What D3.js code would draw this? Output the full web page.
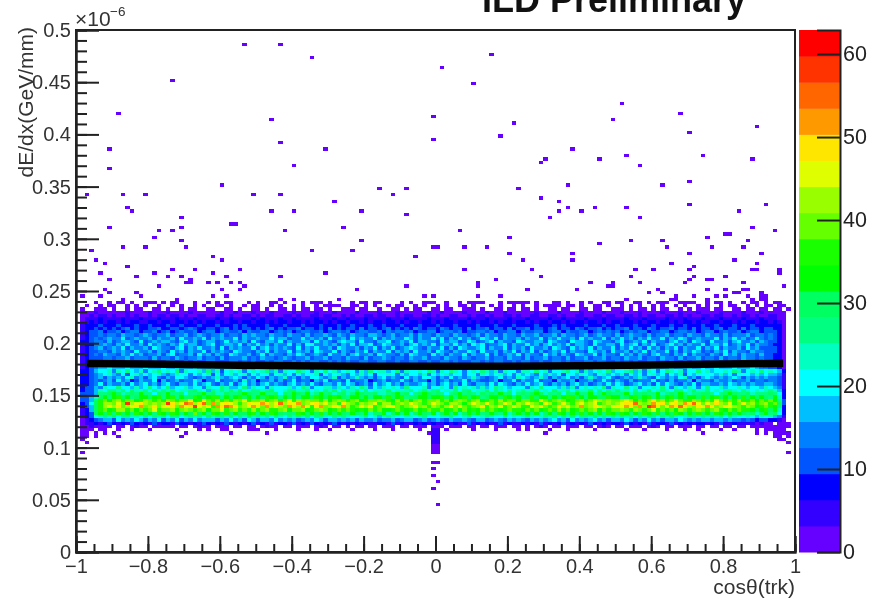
<!DOCTYPE html>
<html>
    <head>
        <meta charset="utf-8">
        <style>
            body { margin: 0; background: #fff; }
            svg { display: block; filter: blur(0.6px); font-family: "Liberation Sans", sans-serif; }
        </style>
    </head>
    <body>
        <svg width="879" height="600"></svg>
        <script src="https://d3js.org/d3.v7.min.js"></script>
        <script>
            // colour levels, bottom of the z axis first
            const palette = ["#6600ff","#3300ff","#0000ff","#0055ff","#0080ff","#00bfff","#00ffff","#00ffc0","#00ff80","#00ff60",
                             "#00ff00","#1aff00","#66ff00","#99ff00","#dfff00","#ffe600","#ff9900","#ff6600","#ff3300","#ff0000"];
            const zMax = 62.9;
            const xBins = 160, yBins = 160;

            const xTicks = [-1,-0.8,-0.6,-0.4,-0.2,0,0.2,0.4,0.6,0.8,1];
            const yTicks = [0,0.05,0.1,0.15,0.2,0.25,0.3,0.35,0.4,0.45,0.5];
            const zTicks = [0,10,20,30,40,50,60];

            // density of the band, one string per y bin, top row is bin 76.
            // each character is the colour level of one x bin (base 36), "." is empty
            const topBin = 76;
            const bandRows = [
                "....0..0.00.0...00.0 .00...0..0.0.00...0. 0..00.0...0.00..0... .0.0..00....0.0..00. ..0..0.0.00...0..0.0 0.0...00.0..0.0..00. .0..00...0.0..00.0.. 0.00.0..0.00.0.00...",
                "..0..0.00..0.0.0..0. .0.0..0.0..00.0..0.0 0..0.0..0.0..0.0.00. .0..0.0..0.00..0.0.. 0.0..00.0...0.0..0.0 ..0.0..0.00.0..00.0. .0.0.0..0.0..0.0..0. 0..0.00..0.0.00.00..",
                ".0..000.0..0.00..00. 0..0.00..00..00.0..0 0.0..00.0.00.00.0..0 00.00..0..00.0.00..0 0.00..000.0..00.00.0 0.0..00.00..00.00..0 00.0.00.0.00..0.0.00 0.00..00.00.00.00.0.",
                ".0001000000100001000 10000100000010010001 00010000100001000100 00100001000100000010 01000010000100010000 00100001000010000100 01000100001000100010 000100001000100000..",
                ".0010110100101001011 01101001100110100110 10110011010011011001 01001101100101100110 10011001011010011010 01100110100110011011 00110101100110101001 101100101101001100..",
                ".0111211112111211121 11211121111211211112 12111211211112111211 21112111121112111121 11211112111211112111 21111211211112111211 11211121111211121112 111211112111211100..",
                ".0121212212122112212 21221212122121221221 22121221221212212122 12212122122121221221 21221221212212122122 12122122121221221212 21221212212212122121 122122121221221210..",
                ".1222322232223223222 32232223222322232322 22322232223222322232 23222322322232223222 32223222232223222322 22322232322223222322 32223222322232232223 223222322232222220..",
                ".1223232323423223342 23323432233234232332 32342323342332324232 33242332342323243233 24323324233423324233 42332342332432334232 33423324323342332423 323423324233233220..",
                ".1233423342344233423 42343342344234334243 34423434234433423443 42344334243443423344 23443423344342334424 33442344243344234343 42343442334423443423 442343342344233320..",
                ".1233434435443454344 53445345434453443545 44354435443534454354 35443554345344535443 54435443453544354435 44534453544345345443 53454435344534435443 544353444534434320..",
                ".1234345446345445354 45364454635454463544 54464553446454536445 36454463545446535446 46354645346546354453 54463546445364544635 46453546446354653454 446354645346434320..",
                ".2234435345543634545 54356453455346454536 43554635445536454356 55364435563454635544 36455346534563544365 44553654436554365443 56345463544356453654 364453564453543320..",
                ".1224454354644536454 35464553456345546354 64535446353664454535 46355634654453564546 35546453656344563544 64535645463554364455 36456354634564535446 355463454635443220..",
                ".1234534546354453654 43563546445363545446 35645454363546445365 44535463546345654354 46353654456354463545 36445365436454635446 35464536453546354463 546354453645333320..",
                ".1233443545436445354 36453544635454365443 54635446354536544635 43546354463545364453 65435446536445354635 46353454635443654536 44535463544635354653 435463544354433320..",
                ".1234354435464534453 56344536453543654453 46354435465345436445 35644536544353654436 45354463544635345463 54436453543654463544 36453543564435463544 354364535443533220..",
                ".1233344344534443534 43543445344353444534 35443454344534453443 54435344543443544534 43544354344534435443 53445344353445344534 43544534435443534453 443534435443433220..",
                ".1232343433443343433 44334343344333443434 33434433434344334343 43344334433433443343 34434333443434433434 43343344343334434433 43434334434343343443 344334343343333220..",
                ".1234444544454445444 45444544454445444544 44544454445444544454 45444544454445444544 44544454445444544454 45444544454445444544 44544454445444544454 454445444544453320..",
                ".1234556555655565556 55655565556555655565 65556555655565556556 55655565556555655565 65556555655565556556 55655565556555655565 65556555655565556556 556555655565443320..",
                ".2235667476865746786 76847667585736767467 67857476687647686756 76475867756847667687 47687646768757476647 76867466786747567685 66785747646876746686 756676874676867652..",
                ".2234567546367565675 45766465673646756746 56646756465667365675 46575636676465665746 56756646647656756465 65465756366576546756 57465646756465736566 665756466657565541..",
                ".2234535454674535643 54665434545754565354 65354574535466545735 45754535645436454665 35464545754345645476 54575354564535754564 34545754365454674535 654545653545454431..",
                ".2234345364523544625 34534465244634453745 24453534634425463443 63445234534464354425 34534463543345244635 44634425445244534643 54353444634353445254 435445344534434431..",
                ".2234635445364564535 64355464564354635645 35645435645464355464 65345364564535445645 35645364355464654354 64564354535645345464 65345645364654354635 544546545454455431..",
                ".2335476686657568656 85667566476687556857 66476667568746677576 57687465767658666746 67648676757568765666 47686665757467676847 66867466768647657646 866756676566576541..",
                ".2335768878697786878 79677897658787979678 87896678977867687968 77968677796777867878 96778689677968768678 77967697786877968687 97768679678768867977 867688768767678752..",
                ".3335889a97898a88698 a8896889a89779889a98 8a889698a98a78a89789 78a98897789a89689a98 98689a89879898a89689 89a97889698a88a78a98 88a798988a7898a87889 98689a988978889862..",
                ".33579a8ab9a89aa9ab8 ab8a99ba9abb8a9ab9a8 a9bab8a9a8aa9ba9aba9 8aa9a8aa9b9ab899aa9a ab9a8ab9ab89aa9ba9a8 9b9aa8a9abb9a8aa99ba a89ab9ab8a9ab9a9aa9b 9ab9a8a9b9a9a98a72..",
                ".3359bcacdbccabdcbcb dcbcceabecbdbcbdcebc cdbcdbcebdcdccbdacdc bcdabccdcbadbcacdbcc dbcacdcbcdabcbdbccac cbbecbcdcabcdbcedcdc cdedacbdfcdbcecbbdcb cbecbcbdbbcacbca83..",
                ".2369bddcecidefdcdcd ifdehgdfhcgcefedbdfe egfdehdfegcdefdecdbf dcbdcdebddbcdcedcbce dcbddcacedcecbcedbdc edcbedbcecbdecdebcdc deffhdcdgefcefdgfhec edfdcebcecdbcdbc93..",
                ".2359bdedfcdefgcdfce efcgefiedfbgfhgfcdeg fcgdfdcgfdgebfgcdfeg dbcedfbcdefcbcdfcdbd cbdfcecbcdfbdcebcedb bedfcbcfdecdgcdfedce fegfcgdihfcegfhfdcfe gfcdfedcbdcabcba82..",
                ".1259bcabddbcacbcebc cdacdcbcdaccebcdbcbd bcdbbcdaccdabcdcabcb cbabacbcaabcbabcabcb bcabcacabacbcbabcbba cbcabcbdbcabcbcdacbc cdcbdcbcebcbcadcbcdc bcdbacbcbba9ab9a72..",
                ".1239a9b8b9a8ba9a8ba 9ba8a9c9a8ba9b8a99ab 8a9ba9898ba9a9b8a9a9 8a98a799a79a8a79a98a 79a8a79a9a89a98a79a9 a8a79a8ba8a9b9a8a8ba 9ba8a9ba9b8a9ba8a9b9 a8ba9a9a98979a8962..",
                ".1236787968877686878 68867878697887868797 87868768787968876878 76678675787667767866 67786678667876686767 87678786878688797878 78786878868797678878 787868766765767541..",
                ".0123455364546535463 54635464555354645365 35546454534546535545 45354453445345534534 54354454355345435454 35454564536454564535 54653546453554654545 545545443432332210..",
                ".0112123212132121312 21322121321213212123 12131221312132121321 21212112213121121212 11212113121211312112 12131212312121321212 21321213122131212122 121311211110100.000.",
                ".0010000.00.0100.000 00.00.0100.000.00.00 .0100.00.000.010.00. 0.00.00.000.00.000.0 00.000.00.00.000.00. 0.010.00.000.00.010. 00.000.010.00.000.00 .00.00.00.000000000.",
                ".000.00..0..0...0... ..0....0.0...0....0. 0...0....0...0..0... .0....0...0.....0... ..0.....0....0....0. 0....0...0.....0.... ..0...0....0...0..0. ...0..0....0.00000..",
                ".00.0.0.0........... ....0.........0..... .................... .................... .................... ....0............... .................... ...........0.0.0000.",
                ".00.0............... .................... .................... .................... .................... .................... .................... ...............00.0.",
                ".0.................. .................... .................... .................... .................... .................... .................... ................00.."
            ];

            // single filled bins outside the band: cos(theta), dE/dx
            const scatterCos = [-0.530,-0.431,-0.344,0.017,-0.729,-0.881,-0.456,-0.006,-0.431,-0.006,-0.904,-0.306,-0.904,-0.394,-0.592,-0.966,-0.868,-0.805,-0.506,-0.431,
                -0.156,-0.120,-0.081,-0.280,-0.854,-0.842,-0.456,-0.394,-0.205,-0.705,-0.081,-0.904,-0.705,-0.573,-0.553,-0.417,-0.256,-0.768,-0.729,-0.780,
                -0.205,-0.705,-0.868,-0.805,-0.693,-0.954,-0.344,-0.230,-0.006,0.008,-0.618,-0.592,-0.056,-0.943,-0.917,-0.854,-0.729,-0.543,-0.668,-0.930,
                -0.780,-0.618,-0.306,-0.827,-0.741,-0.580,-0.705,-0.431,-0.904,-0.680,-0.692,-0.680,-0.630,-0.605,-0.568,-0.543,-0.530,-0.768,-0.543,-0.592,
                -0.219,-0.081,-0.917,-0.904,-0.829,-0.618,-0.580,-0.930,-0.981,-0.032,-0.006,-0.818,-0.868,-0.431,-0.394,-0.268,-0.718,-0.344,-0.318,-0.842,
                -0.805,-0.193,-0.292,-0.219,-0.131,-0.006,
                0.156,0.020,0.104,0.218,0.181,0.518,0.492,0.681,0.705,0.892,0.381,0.306,0.293,0.456,0.531,0.569,0.742,0.879,0.368,0.231,
                0.630,0.705,0.293,0.344,0.705,0.918,0.368,0.344,0.406,0.443,0.531,0.318,0.569,0.843,0.879,0.943,0.069,0.205,0.801,0.819,
                0.755,0.865,0.542,0.630,0.643,0.082,0.144,0.456,0.768,0.854,0.205,0.705,0.904,0.244,0.381,0.381,0.830,0.655,0.717,0.892,
                0.892,0.556,0.606,0.267,0.082,0.705,0.879,0.892,0.954,0.954,0.717,0.293,0.542,0.803,0.705,0.755,0.768,0.170,0.117,0.117,
                0.430,0.492,0.569,0.694,0.854,0.481,0.492,0.395,0.255,0.968,0.755,0.803,0.854,0.865,0.620,0.630,0.592,0.830,0.843,0.904,
                0.667,0.667,0.655,0.717,0.782,0.803,0.865,0.879,0.904,0.918,0.904,0.918,0.117,0.181,0.531,0.755,0.755,0.968,0.943,0.280,
                0.504,0.592,0.630,0.706,0.794,0.181,0.207,0.221,0.233,0.110,0.337,0.323,
                -0.942,-0.880,-0.705,-0.969,-0.981,-0.599,-0.508,-0.469,0.741,0.978,0.981];
            const scatterDedx = [0.487,0.486,0.472,0.463,0.450,0.419,0.413,0.418,0.393,0.394,0.387,0.387,0.367,0.369,0.353,0.341,0.343,0.341,0.341,0.341,
                0.347,0.341,0.347,0.335,0.331,0.325,0.327,0.327,0.325,0.321,0.323,0.312,0.312,0.315,0.315,0.309,0.312,0.307,0.307,0.301,
                0.299,0.298,0.293,0.293,0.291,0.289,0.289,0.289,0.293,0.293,0.283,0.281,0.283,0.279,0.277,0.273,0.271,0.271,0.269,0.267,
                0.267,0.267,0.267,0.264,0.265,0.265,0.263,0.263,0.261,0.261,0.257,0.257,0.259,0.259,0.259,0.257,0.255,0.255,0.251,0.251,
                0.253,0.255,0.251,0.249,0.249,0.246,0.245,0.246,0.245,0.246,0.245,0.245,0.243,0.243,0.243,0.243,0.243,0.240,0.240,0.240,
                0.240,0.240,0.2375,0.2375,0.2375,0.239,
                0.478,0.463,0.447,0.412,0.399,0.429,0.413,0.419,0.403,0.407,0.385,0.377,0.374,0.375,0.379,0.371,0.381,0.377,0.353,0.349,
                0.351,0.356,0.339,0.337,0.333,0.333,0.329,0.325,0.325,0.329,0.329,0.321,0.321,0.325,0.312,0.309,0.307,0.303,0.305,0.305,
                0.301,0.299,0.299,0.298,0.293,0.293,0.293,0.295,0.291,0.291,0.287,0.287,0.287,0.281,0.285,0.281,0.281,0.276,0.273,0.275,
                0.271,0.271,0.271,0.269,0.269,0.269,0.269,0.269,0.269,0.267,0.265,0.263,0.263,0.263,0.261,0.261,0.261,0.261,0.258,0.255,
                0.259,0.258,0.259,0.259,0.259,0.254,0.255,0.253,0.251,0.255,0.251,0.253,0.253,0.251,0.251,0.249,0.249,0.249,0.249,0.249,
                0.246,0.243,0.243,0.245,0.245,0.246,0.245,0.243,0.245,0.245,0.243,0.243,0.245,0.245,0.243,0.243,0.239,0.2375,0.238,0.240,
                0.240,0.240,0.240,0.239,0.239,0.239,0.239,0.239,0.239,0.238,0.2375,0.2375,
                0.112,0.111,0.111,0.104,0.095,0.117,0.117,0.115,0.114,0.104,0.095];

            // the tail under the band at cos(theta) = 0
            const tailCos = [-0.006,0.006,-0.006,0.006,-0.006,0.006,-0.006,0.006,-0.006,0.006,-0.006,0.006,-0.006,0.006,-0.006,0.006,-0.006,0.006,-0.019,
                -0.007,0.007,-0.007,-0.007,0.007,-0.007,0.007];
            const tailDedx = [0.118,0.118,0.115,0.115,0.112,0.112,0.109,0.109,0.106,0.106,0.103,0.103,0.100,0.100,0.097,0.097,0.094,0.094,0.114,
                0.086,0.085,0.080,0.074,0.067,0.062,0.044];
            const tailCounts = [6,6,5,5,5,5,4,5,4,4,3,4,3,3,3,3,2,2,2,2,2,2,2,2,2,2];

            // mean dE/dx profile drawn over the band
            const profileCos = [-0.97,-0.8,-0.6,-0.4,-0.2,0,0.2,0.4,0.6,0.8,0.967];
            const profileDedx = [0.1806,0.180,0.179,0.1785,0.178,0.178,0.178,0.1785,0.179,0.180,0.1807];

            let svg = d3.select("svg");
            let x = d3.scaleLinear().domain([-1,1]).range([76,795]);
            let y = d3.scaleLinear().domain([0,0.5]).range([552,30]);
            let z = d3.scaleLinear().domain([0,zMax]).range([552,30]);
            let color = d3.scaleQuantize().domain([0,zMax]).range(palette);

            let binW = 2/xBins, binH = 0.5/yBins;

            // collect all filled bins, counts are taken at the middle of a level
            let cells = [];
            bandRows.forEach(function(row, r) {
                let chars = row.replace(/ /g, "");
                for (let i = 0; i < chars.length; i++) {
                    if (chars[i] == ".") continue;
                    cells.push({col: i, row: topBin - r, count: (parseInt(chars[i], 36) + 0.5)*zMax/20});
                }
            });
            scatterCos.forEach(function(c, i) {
                cells.unshift({col: Math.floor((c + 1)/binW), row: Math.floor(scatterDedx[i]/binH), count: 1});
            });
            tailCos.forEach(function(c, i) {
                cells.push({col: Math.floor((c + 1)/binW), row: Math.floor(tailDedx[i]/binH), count: tailCounts[i]});
            });

            svg.append("g").selectAll("rect")
                .data(cells)
                .enter().append("rect")
                .attr("x", d => x(-1 + d.col*binW))
                .attr("y", d => y((d.row + 1)*binH))
                .attr("width", x(binW) - x(0))
                .attr("height", y(0) - y(binH))
                .attr("fill", d => color(d.count))
                .attr("shape-rendering", "crispEdges");

            let profile = d3.line().x((d, i) => x(profileCos[i])).y(d => y(d));
            svg.append("path")
                .attr("d", profile(profileDedx))
                .attr("fill", "none")
                .attr("stroke", "#000")
                .attr("stroke-width", 7.5);

            // colour bar
            svg.append("g").selectAll("rect")
                .data(palette)
                .enter().append("rect")
                .attr("x", 799)
                .attr("width", 41)
                .attr("y", (d, i) => z((i + 1)*zMax/20))
                .attr("height", z(0) - z(zMax/20) + 0.5)
                .attr("fill", d => d);

            // frame
            svg.append("rect")
                .attr("x", x(-1)).attr("y", y(0.5))
                .attr("width", x(1) - x(-1)).attr("height", y(0) - y(0.5))
                .attr("fill", "none")
                .attr("stroke", "#222")
                .attr("stroke-width", 2);

            let minus = d => String(d).replace("-", "\u2212");

            // minor ticks first, then the labelled ones
            svg.append("g").attr("transform", "translate(0,552)")
                .call(d3.axisBottom(x).tickValues(d3.range(-20, 21).map(d => d*0.05)).tickSize(-8).tickFormat(""));
            svg.append("g").attr("transform", "translate(0,552)")
                .call(d3.axisBottom(x).tickValues(xTicks).tickSize(-16).tickPadding(7).tickFormat(minus));
            svg.append("g").attr("transform", "translate(76,0)")
                .call(d3.axisLeft(y).tickValues(d3.range(0, 51).map(d => d*0.01)).tickSize(-11).tickFormat(""));
            svg.append("g").attr("transform", "translate(76,0)")
                .call(d3.axisLeft(y).tickValues(yTicks).tickSize(-23).tickPadding(5).tickFormat(minus));
            let zAxis = svg.append("g").attr("transform", "translate(840,0)")
                .call(d3.axisRight(z).tickValues(zTicks).tickSize(-23).tickPadding(3));

            svg.selectAll(".domain").attr("stroke", "#222").attr("stroke-width", 2);
            svg.selectAll(".tick line").attr("stroke", "#222").attr("stroke-width", 2);
            svg.selectAll(".tick text").attr("font-size", 20).attr("font-family", "Liberation Sans").attr("fill", "#333");
            zAxis.selectAll(".tick text").attr("font-size", 21.5).attr("fill", "#222");

            svg.append("text")
                .attr("x", 795).attr("y", 594)
                .attr("text-anchor", "end")
                .attr("font-size", 21).attr("fill", "#333")
                .text("cos\u03b8(trk)");
            svg.append("text")
                .attr("transform", "translate(33,27) rotate(-90)")
                .attr("text-anchor", "end")
                .attr("font-size", 21).attr("fill", "#333")
                .text("dE/dx(GeV/mm)");
            svg.append("text")
                .attr("x", 75).attr("y", 26)
                .attr("font-size", 21).attr("fill", "#333")
                .text("\u00d710");
            svg.append("text")
                .attr("x", 110).attr("y", 16)
                .attr("font-size", 13.5).attr("fill", "#333")
                .text("\u22126");
            svg.append("text")
                .attr("x", 482).attr("y", 12)
                .attr("font-size", 36).attr("font-weight", "bold").attr("fill", "#111")
                .text("ILD Preliminary");
        </script>
    </body>
</html>
